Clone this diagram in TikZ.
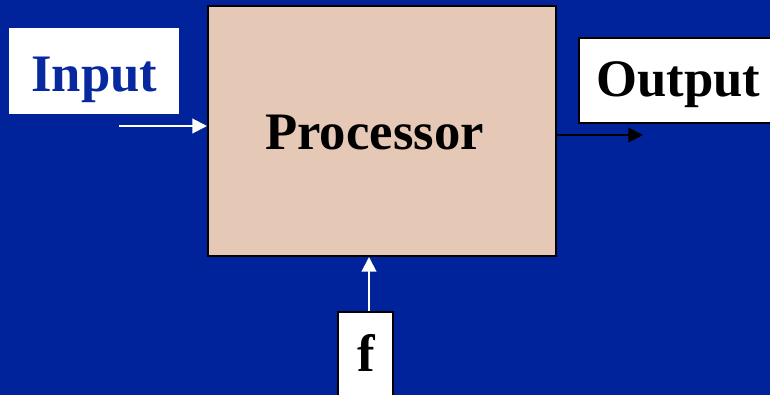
\documentclass[tikz,border=0pt]{standalone}
\usepackage{fontspec}
\setmainfont{Liberation Serif}
\usetikzlibrary{arrows.meta}
\definecolor{bgblue}{RGB}{0,34,155}
\definecolor{procfill}{RGB}{230,200,182}
\definecolor{inblue}{RGB}{8,40,160}
\tikzset{
  bigtext/.style={font=\fontsize{39.5}{42}\selectfont\bfseries, inner sep=0pt, anchor=base},
  boxline/.style={draw=black, line width=1.5pt},
  conn/.style={line width=1.5pt, -{Triangle[length=11pt,width=11pt]}},
}
\begin{document}
\begin{tikzpicture}[x=0.75pt,y=-0.75pt]
\useasboundingbox (0,0) rectangle (770,395);
\fill[bgblue] (0,0) rectangle (770,395);
\clip (0,0) rectangle (770,395);
% boxes
\node[boxline, fill=procfill, anchor=north west, minimum width=261pt, minimum height=187.5pt, inner sep=0pt] (proc) at (207,5) {};
\node[fill=white, anchor=north west, minimum width=127.5pt, minimum height=64.5pt, inner sep=0pt] (inbox) at (9,28) {};
\node[boxline, fill=white, anchor=north west, minimum width=150pt, minimum height=63.75pt, inner sep=0pt] (outbox) at (578,37) {};
\node[boxline, fill=white, anchor=north west, minimum width=41.25pt, minimum height=75pt, inner sep=0pt] (fbox) at (337,311) {};
% texts
\node[bigtext, text=inblue] (intext) at (94.3,91.5) {Input};
\node[bigtext] (proctext) at (374.5,149.3) {Processor};
\node[bigtext] (outtext) at (678.5,96.7) {Output};
\node[bigtext] (ftext) at (366.7,371.7) {f};
% connectors
\coordinate (instart) at (119,126);
\coordinate (outend) at (643,135);
\coordinate (fx) at (369,0);
\draw[conn, white] (instart) -- (instart -| proc.west);
\draw[conn, black] (outend -| proc.east) -- (outend);
\draw[conn, white] (fx |- fbox.north) -- (fx |- proc.south);
\end{tikzpicture}
\end{document}
